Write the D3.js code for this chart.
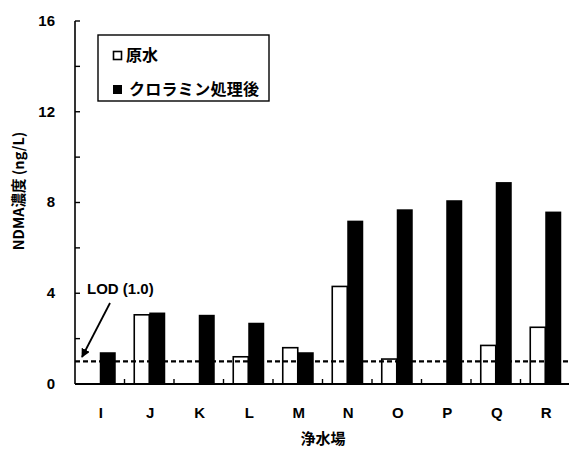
<!DOCTYPE html>
<html>
<head>
<meta charset="utf-8">
<script src="https://cdn.jsdelivr.net/npm/d3@7/dist/d3.min.js"></script>
<style>
  html, body { margin: 0; padding: 0; background: #fff; }
  svg { display: block; }
  .num { font-family: "Liberation Sans", Arial, sans-serif; font-weight: bold; }
  .jp { font-family: "Noto Sans CJK JP", "Liberation Sans", sans-serif; font-weight: bold; }
</style>
</head>
<body>
<svg id="chart" width="569" height="450"></svg>
<script>
// Water treatment plants
const plants = ["I", "J", "K", "L", "M", "N", "O", "P", "Q", "R"];
// NDMA in raw water (ng/L); null = below detection, no bar drawn
const rawWater = [null, 3.05, null, 1.2, 1.6, 4.3, 1.1, null, 1.7, 2.5];
// NDMA after chloramine treatment (ng/L)
const afterChloramine = [1.4, 3.15, 3.05, 2.7, 1.4, 7.2, 7.7, 8.1, 8.9, 7.6];
const majorTicks = [0, 4, 8, 12, 16];
const minorTicks = [2, 6, 10, 14];
const lod = 1.0;
const seriesNames = ["原水", "クロラミン処理後"];

const svg = d3.select("#chart");
const plotLeft = 75, plotRight = 570, plotTop = 21, plotBottom = 384;

const x = d3.scaleBand().domain(plants).range([plotLeft, plotRight])
  .paddingInner(0.374).paddingOuter(0.187);
const sub = d3.scaleOrdinal().domain(["raw", "chl"]).range([-15, 0]);
const subW = { raw: 15, chl: 16 };
const y = d3.scaleLinear().domain([0, 16]).range([plotBottom, plotTop]);

const center = c => x(c) + x.bandwidth() / 2;

// Bars
const rows = plants.map((p, i) => ({ p, raw: rawWater[i], chl: afterChloramine[i] }));
const bars = [];
rows.forEach(r => {
  if (r.raw != null) bars.push({ p: r.p, k: "raw", v: r.raw });
  if (r.chl != null) bars.push({ p: r.p, k: "chl", v: r.chl });
});
svg.append("g").selectAll("rect").data(bars).join("rect")
  .attr("x", d => center(d.p) + sub(d.k))
  .attr("y", d => y(d.v))
  .attr("width", d => subW[d.k])
  .attr("height", d => y(0) - y(d.v))
  .attr("fill", d => d.k === "chl" ? "#000" : "#fff")
  .attr("stroke", "#000")
  .attr("stroke-width", d => d.k === "chl" ? 0 : 1.6);

// LOD dashed line
svg.append("line")
  .attr("x1", plotLeft).attr("x2", 569)
  .attr("y1", y(lod)).attr("y2", y(lod))
  .attr("stroke", "#000").attr("stroke-width", 2.2)
  .attr("stroke-dasharray", "5,3");

// Y axis
const yAxis = svg.append("g").attr("transform", `translate(${plotLeft},0)`);
yAxis.append("line").attr("x1", 0).attr("x2", 0).attr("y1", y(16)).attr("y2", y(0))
  .attr("stroke", "#000").attr("stroke-width", 1.6);
yAxis.selectAll(".tk").data(majorTicks.concat(minorTicks)).join("line")
  .attr("x1", 0).attr("x2", 5).attr("y1", d => y(d)).attr("y2", d => y(d))
  .attr("stroke", "#000").attr("stroke-width", 1.4);
yAxis.selectAll("text").data(majorTicks).join("text")
  .attr("class", "num")
  .attr("x", -20).attr("y", d => y(d) + 1)
  .attr("text-anchor", "end").attr("dominant-baseline", "middle")
  .attr("font-size", 15)
  .text(d => d);

// X axis
const xAxis = svg.append("g");
xAxis.append("line").attr("x1", plotLeft).attr("x2", 569).attr("y1", y(0)).attr("y2", y(0))
  .attr("stroke", "#000").attr("stroke-width", 2);
xAxis.selectAll(".sep").data(plants.slice(0, -1)).join("line")
  .attr("x1", d => center(d) + x.step() / 2).attr("x2", d => center(d) + x.step() / 2)
  .attr("y1", y(0)).attr("y2", y(0) - 5)
  .attr("stroke", "#000").attr("stroke-width", 1.4);
xAxis.selectAll("text").data(plants).join("text")
  .attr("class", "num")
  .attr("x", d => center(d) + 1).attr("y", 418)
  .attr("text-anchor", "middle")
  .attr("font-size", 15)
  .text(d => d);

// Axis titles
svg.append("text").attr("class", "jp")
  .attr("x", 323).attr("y", 444).attr("text-anchor", "middle")
  .attr("font-size", 15).text("浄水場");
svg.append("text").attr("class", "jp")
  .attr("transform", "translate(24,191) rotate(-90)")
  .attr("text-anchor", "middle").attr("font-size", 14.5)
  .text("NDMA濃度 (ng/L)");

// LOD annotation
svg.append("defs").append("marker")
  .attr("id", "arrow").attr("viewBox", "0 0 10 10")
  .attr("refX", 9).attr("refY", 5)
  .attr("markerWidth", 5).attr("markerHeight", 5)
  .attr("orient", "auto")
  .append("path").attr("d", "M0,0 L10,5 L0,10 z").attr("fill", "#000");
svg.append("text").attr("class", "num")
  .attr("x", 87).attr("y", 294).attr("font-size", 15)
  .text("LOD (1.0)");
svg.append("line")
  .attr("x1", 110).attr("y1", 303).attr("x2", 82).attr("y2", 357)
  .attr("stroke", "#000").attr("stroke-width", 1.8)
  .attr("marker-end", "url(#arrow)");

// Legend
const lg = svg.append("g");
lg.append("rect").attr("x", 98).attr("y", 35).attr("width", 171).attr("height", 66)
  .attr("fill", "#fff").attr("stroke", "#000").attr("stroke-width", 1.4);
lg.append("rect").attr("x", 113.5).attr("y", 51.5).attr("width", 8).attr("height", 8)
  .attr("fill", "#fff").attr("stroke", "#000").attr("stroke-width", 1.6);
lg.append("rect").attr("x", 113).attr("y", 85).attr("width", 9).attr("height", 9)
  .attr("fill", "#000");
lg.append("text").attr("class", "jp").attr("x", 126).attr("y", 61)
  .attr("font-size", 16).text(seriesNames[0]);
lg.append("text").attr("class", "jp").attr("x", 129).attr("y", 95)
  .attr("font-size", 16).attr("textLength", 130).attr("lengthAdjust", "spacing")
  .text(seriesNames[1]);
</script>
</body>
</html>
